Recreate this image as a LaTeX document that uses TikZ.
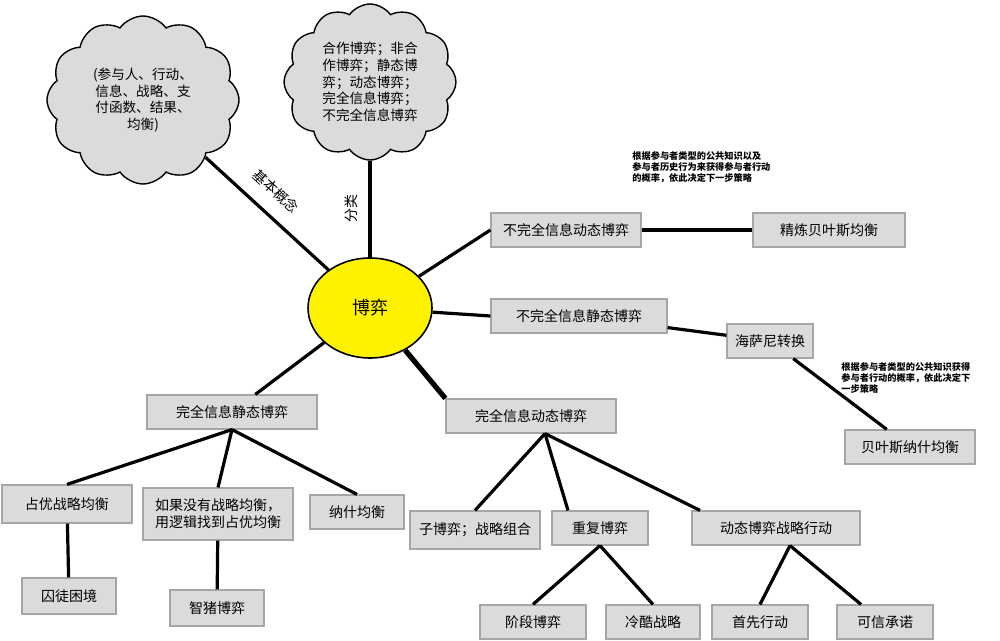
\documentclass[tikz,border=0pt]{standalone}
\usepackage{fontspec}
\setmainfont{Noto Sans CJK SC}
\usetikzlibrary{shapes.symbols,shapes.geometric}

\tikzset{
  box/.style={draw=gray!70, fill=gray!28, line width=0.6pt, minimum height=17pt, inner sep=2pt,
    font=\fontsize{7}{8.5}\selectfont, align=center},
  cloudbox/.style={cloud, cloud puffs=12, cloud puff arc=110, aspect=1.1, draw, fill=gray!28,
    line width=0.7pt, font=\fontsize{6.8}{8.3}\selectfont, align=center, inner sep=0pt},
  link/.style={line width=1.6pt},
  note/.style={font=\fontsize{4.6}{5.6}\selectfont\bfseries, align=left, anchor=north west, inner sep=0pt}
}

\begin{document}
\begin{tikzpicture}[x=0.5pt, y=-0.5pt]
\useasboundingbox (0,0) rectangle (1000,641);

% Centre
\node[ellipse, draw, fill=yellow, line width=0.8pt, minimum width=62pt, minimum height=50pt,
  font=\fontsize{9}{10}\selectfont] (game) at (370,308) {博弈};

% Clouds
\node[cloudbox, minimum width=96pt, minimum height=84pt] (concept) at (143,100)
  {(参与人、行动、\\信息、战略、支\\付函数、结果、\\均衡)};
\node[cloudbox, minimum width=86pt, minimum height=78pt] (kinds) at (370,82)
  {合作博弈；非合\\作博弈；静态博\\弈；动态博弈；\\完全信息博弈；\\不完全信息博弈};

% Right branch
\node[box, minimum width=75pt] (idyn)  at (566,230) {不完全信息动态博弈};
\node[box, minimum width=76pt] (pbe)   at (829,230) {精炼贝叶斯均衡};
\node[box, minimum width=88pt] (istat) at (579,316) {不完全信息静态博弈};
\node[box, minimum width=43pt] (hars)  at (770,341) {海萨尼转换};
\node[box, minimum width=65pt] (bne)   at (910,447) {贝叶斯纳什均衡};

% Left branch
\node[box, minimum width=85pt] (cstat) at (232,412) {完全信息静态博弈};
\node[box, minimum width=65pt, minimum height=19pt] (dom) at (67,504) {占优战略均衡};
\node[box, minimum width=75pt, minimum height=26pt] (nodom) at (218,514) {如果没有战略均衡，\\用逻辑找到占优均衡};
\node[box, minimum width=47pt] (nash)  at (357,512) {纳什均衡};
\node[box, minimum width=47pt, minimum height=18pt] (pris) at (69,596) {囚徒困境};
\node[box, minimum width=47pt, minimum height=18pt] (pig)  at (217,608) {智猪博弈};

% Bottom branch
\node[box, minimum width=85pt] (cdyn)  at (531,416) {完全信息动态博弈};
\node[box, minimum width=65pt, minimum height=19pt] (sub) at (475,530) {子博弈；战略组合};
\node[box, minimum width=48pt] (rep)   at (600,528) {重复博弈};
\node[box, minimum width=84pt] (act)   at (776,528) {动态博弈战略行动};
\node[box, minimum width=53pt] (stage) at (533,622) {阶段博弈};
\node[box, minimum width=47pt] (grim)  at (653,622) {冷酷战略};
\node[box, minimum width=48pt] (first) at (760,622) {首先行动};
\node[box, minimum width=48pt] (cred)  at (885,622) {可信承诺};

% Notes
\node[note] (note1) at (632,151) {根据参与者类型的公共知识以及\\参与者历史行为来获得参与者行动\\的概率，依此决定下一步策略};
\node[note] (note2) at (841,362) {根据参与者类型的公共知识获得\\参与者行动的概率，依此决定下\\一步策略};

% Links
\draw[link] (concept) -- node[sloped, above=4pt, pos=0.45, font=\fontsize{7}{8}\selectfont] {基本概念} (game);
\draw[link] (kinds) -- node[font=\fontsize{7}{8}\selectfont, rotate=90, anchor=south, yshift=2pt] {分类} (game);
\draw[link] (game) -- (idyn.west);
\draw[link] (game) -- (istat.west);
\draw[line width=2.6pt] (game) -- (cdyn.north west);
\draw[link] (game) -- (cstat);
\draw[link] (idyn) -- (pbe);
\draw[link] (istat) -- (hars);
\draw[link] (hars) -- (bne);
\draw[link] (cstat.south) -- (dom.north);
\draw[link] (cstat.south) -- (nodom.north);
\draw[link] (cstat.south) -- (nash.north);
\draw[link] (dom) -- (pris);
\draw[link] (nodom) -- (pig);
\draw[link] ([xshift=7pt]cdyn.south) -- (sub.north);
\draw[link] ([xshift=7pt]cdyn.south) -- ([xshift=-16pt]rep.north);
\draw[link] ([xshift=7pt]cdyn.south) -- ([xshift=-38pt]act.north);
\draw[link] (rep.south) -- (stage.north);
\draw[link] (rep.south) -- (grim.north);
\draw[link] ([xshift=7pt]act.south) -- (first.north);
\draw[link] ([xshift=7pt]act.south) -- ([xshift=-12pt]cred.north);
\end{tikzpicture}
\end{document}
